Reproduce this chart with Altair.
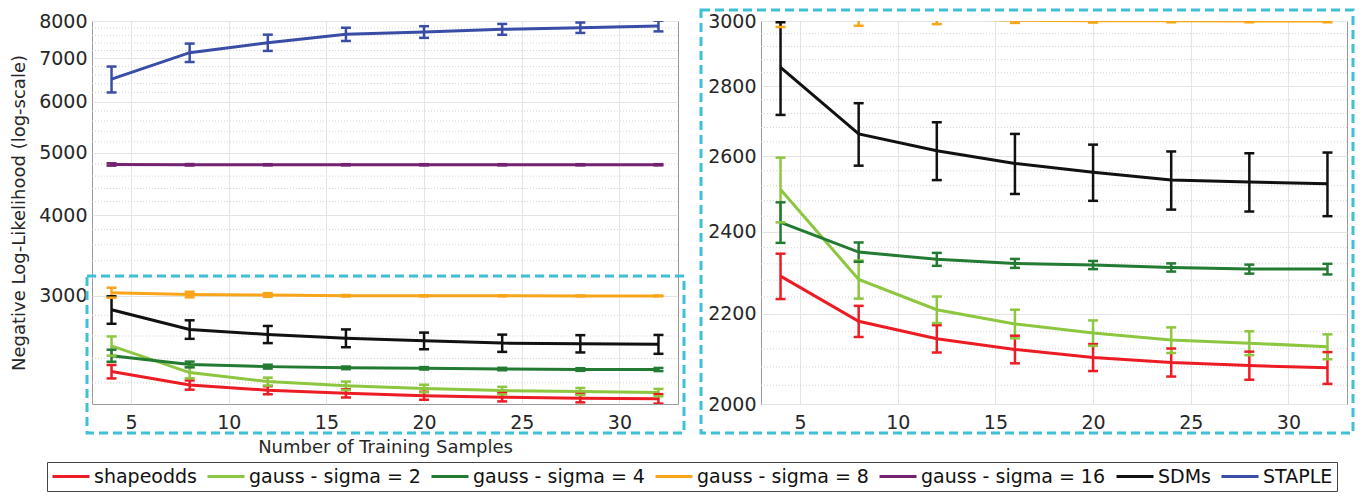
import altair as alt
import pandas as pd

samples = [4, 8, 12, 16, 20, 24, 28, 32]
series_names = ["shapeodds", "gauss - sigma = 2", "gauss - sigma = 4", "gauss - sigma = 8",
                "gauss - sigma = 16", "SDMs", "STAPLE"]
series_colors = ["#ED1C24", "#8DC63F", "#237A33", "#F9A51A", "#74226F", "#111111", "#3A4DA6"]

shapeodds_mean = [2290, 2183, 2143, 2119, 2101, 2090, 2083, 2078]
shapeodds_err = [55, 36, 31, 31, 30, 31, 31, 35]
gauss2_mean = [2510, 2282, 2210, 2177, 2156, 2140, 2133, 2125]
gauss2_err = [86, 46, 31, 33, 29, 29, 27, 28]
gauss4_mean = [2424, 2349, 2331, 2321, 2317, 2311, 2307, 2307]
gauss4_err = [52, 24, 16, 11, 10, 10, 11, 13]
gauss8_mean = [3035, 3015, 3010, 3002, 3001, 3001, 3000, 3000]
gauss8_err = [54, 30, 20, 8, 6, 5, 4, 4]
gauss16_mean = [4795, 4790, 4790, 4790, 4790, 4790, 4790, 4790]
gauss16_err = [20, 12, 10, 10, 10, 10, 10, 10]
sdms_mean = [2856, 2662, 2615, 2580, 2556, 2535, 2530, 2525]
sdms_err = [140, 88, 80, 82, 76, 78, 78, 85]
staple_mean = [6500, 7146, 7405, 7630, 7693, 7766, 7812, 7859]
staple_err = [300, 235, 215, 180, 160, 150, 145, 150]

x_ticks = [5, 10, 15, 20, 25, 30]
left_major = [3000, 4000, 5000, 6000, 7000, 8000]
left_minor = [2200, 2400, 2600, 2800, 3200, 3400, 3600, 3800, 4200, 4400, 4600, 4800,
              5200, 5400, 5600, 5800, 6200, 6400, 6600, 6800, 7200, 7400, 7600, 7800]
right_major = [2000, 2200, 2400, 2600, 2800, 3000]
right_minor = [2040, 2080, 2120, 2160, 2240, 2280, 2320, 2360, 2440, 2480, 2520, 2560,
               2640, 2680, 2720, 2760, 2840, 2880, 2920, 2960]

means = [shapeodds_mean, gauss2_mean, gauss4_mean, gauss8_mean, gauss16_mean, sdms_mean, staple_mean]
errs = [shapeodds_err, gauss2_err, gauss4_err, gauss8_err, gauss16_err, sdms_err, staple_err]

rows = []
for name, ms, es in zip(series_names, means, errs):
    for x, m, e in zip(samples, ms, es):
        rows.append({"samples": x, "series": name, "mean": m, "lower": m - e, "upper": m + e})
df = pd.DataFrame(rows)

BOX = "#3EC1D6"
FONT = "DejaVu Sans"


def panel(domain, major, minor, box, ytitle, xtitle):
    xscale = alt.Scale(domain=[3, 33], nice=False, zero=False)
    yscale = alt.Scale(type="log", domain=domain, nice=False, zero=False)
    color = alt.Color("series:N", scale=alt.Scale(domain=series_names, range=series_colors),
                      legend=alt.Legend(title=None))
    yaxis = alt.Axis(values=major, format="d", title=ytitle, grid=True)
    xaxis = alt.Axis(values=x_ticks, title=xtitle, grid=True)

    def X(f):
        return alt.X(f, scale=xscale, axis=xaxis)

    def Y(f):
        return alt.Y(f, scale=yscale, axis=yaxis)

    minor_layer = alt.Chart(pd.DataFrame({"v": minor})).mark_rule(
        color="#d4d4d4", strokeDash=[1, 2], strokeWidth=1
    ).encode(y=Y("v:Q"))

    base = alt.Chart(df)
    lines = base.mark_line(strokeWidth=3, clip=True).encode(
        x=X("samples:Q"), y=Y("mean:Q"), color=color)
    bars = base.mark_rule(strokeWidth=2.5, clip=True).encode(
        x=X("samples:Q"), y=Y("lower:Q"), y2="upper:Q", color=color)
    cap_hi = base.mark_rule(strokeWidth=2.5, clip=True, xOffset=-5, x2Offset=5).encode(
        x=X("samples:Q"), x2="samples:Q", y=Y("upper:Q"), color=color)
    cap_lo = base.mark_rule(strokeWidth=2.5, clip=True, xOffset=-5, x2Offset=5).encode(
        x=X("samples:Q"), x2="samples:Q", y=Y("lower:Q"), color=color)
    frame = alt.Chart(pd.DataFrame({"a": [0]})).mark_rect(
        fillOpacity=0, stroke=BOX, strokeWidth=3, strokeDash=[9, 5]
    ).encode(x=alt.value(box[0]), x2=alt.value(box[1]), y=alt.value(box[2]), y2=alt.value(box[3]))
    return alt.layer(minor_layer, lines, bars, cap_hi, cap_lo, frame).properties(width=586, height=383)


left = panel([2040, 8000], left_major, left_minor, [-5, 592, 255, 412],
             "Negative Log-Likelihood (log-scale)", "Number of Training Samples")
right = panel([2000, 3000], right_major, right_minor, [-60, 592, -11, 412], None, None)

chart = alt.hconcat(left, right, spacing=13).resolve_scale(y="independent").configure(
    font=FONT, padding={"left": 2, "top": 0, "right": 2, "bottom": 0}
).configure_view(stroke="#9a9a9a", strokeWidth=1).configure_axis(
    labelFont=FONT, labelFontSize=19, labelColor="#262626", ticks=False, domain=False,
    gridColor="#e4e4e4", gridWidth=1, labelPadding=5,
    titleFont=FONT, titleFontSize=18, titleFontWeight="normal", titleColor="#262626",
).configure_axisY(titlePadding=10).configure_axisX(labelPadding=9, titlePadding=6).configure_legend(
    orient="none", legendX=-45, legendY=441, direction="horizontal", columns=7,
    strokeColor="#444444", fillColor="white", padding=4, labelFont=FONT, labelFontSize=19,
    labelColor="#111111", symbolType="stroke", symbolSize=1369, symbolStrokeWidth=3,
    columnPadding=9, labelOffset=3, labelLimit=400, clipHeight=21,
)

chart.save("out.html", embed_options={"renderer": "svg", "actions": False})
